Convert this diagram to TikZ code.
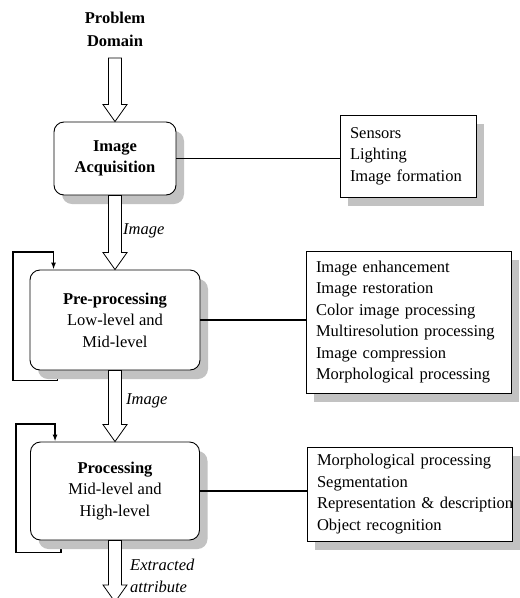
\documentclass[tikz,border=0pt]{standalone}
\usepackage{fontspec}
\setmainfont{Liberation Serif}
\usetikzlibrary{shadows,calc,arrows.meta,backgrounds}
\tikzset{
  txt/.style={font=\fontsize{16.5}{21.5}\selectfont},
  stage/.style={txt, draw=black, line width=0.9pt, fill=white, rounded corners=10pt, align=center,
     drop shadow={shadow xshift=8pt, shadow yshift=-9pt, fill=black!24, opacity=1}},
  listbox/.style={txt, draw=black, line width=0.9pt, fill=white, align=left, inner xsep=10pt, inner ysep=0pt,
     drop shadow={shadow xshift=8pt, shadow yshift=-9pt, fill=black!24, opacity=1}},
  hollow/.style={draw=black, line width=0.8pt, fill=white},
  link/.style={draw=black, line width=1.4pt},
  loopline/.style={draw=black, line width=1.4pt, -{Latex[length=7pt,width=5pt]}},
  lab/.style={txt, font=\fontsize{16.5}{21.5}\selectfont\itshape, anchor=west, align=left, inner sep=0pt}
}
\newcommand\hollowarrow[2]{%
  \draw[hollow] ($(#1)+(-6.5,0)$) -- ($(#2)+(-6.5,-17)$) -- ($(#2)+(-12,-17)$) -- (#2)
    -- ($(#2)+(12,-17)$) -- ($(#2)+(6.5,-17)$) -- ($(#1)+(6.5,0)$) -- cycle;}
\begin{document}
\begin{tikzpicture}[x=1pt,y=-1pt]
\useasboundingbox (0,0) rectangle (520,598);

\node[txt, font=\fontsize{16.5}{23}\selectfont\bfseries, align=center] (pd) at (115,29) {Problem\\Domain};

\node[stage, minimum width=122pt, minimum height=73pt] (acq) at (115,158.5)
  {\textbf{Image}\\\textbf{Acquisition}};
\node[stage, minimum width=170pt, minimum height=100pt] (pre) at (115,320)
  {\textbf{Pre-processing}\\Low-level and\\Mid-level};
\node[stage, minimum width=169pt, minimum height=98pt] (proc) at (115,491)
  {\textbf{Processing}\\Mid-level and\\High-level};

\node[listbox, text width=116pt, minimum height=82pt] (l1) at (408,156)
  {Sensors\\Lighting\\Image formation};
\node[listbox, text width=185pt, minimum height=142pt] (l2) at (408.5,322)
  {Image enhancement\\Image restoration\\Color image processing\\\mbox{Multiresolution processing}\\Image compression\\\mbox{Morphological processing}};
\node[listbox, text width=185pt, minimum height=94pt] (l3) at (409.5,494)
  {\mbox{Morphological processing}\\Segmentation\\\mbox{Representation \& description}\\Object recognition};

\draw[link] (acq.east) -- (acq.east -| l1.west);
\draw[link] (pre.east) -- (pre.east -| l2.west);
\draw[link] (proc.east) -- (proc.east -| l3.west);

\begin{scope}[on background layer]
  \draw[loopline] ($(pre.south west)+(28,0)$) -- ++(0,10) -| (13,252) -| ($(pre.north west)+(24,0)$);
  \draw[loopline] ($(proc.south west)+(31,0)$) -- ++(0,12) -| (16,424) -| ($(proc.north west)+(25,0)$);
\end{scope}

\coordinate (a1s) at (115,58);
\coordinate (a4e) at (115,602);
\hollowarrow{a1s}{acq.north}
\hollowarrow{acq.south}{pre.north}
\hollowarrow{pre.south}{proc.north}
\hollowarrow{proc.south}{a4e}

\node[lab] (im1) at (123,231) {Image};
\node[lab] (im2) at (126,401) {Image};
\node[lab] (ex) at (130,576) {Extracted\\attribute};
\end{tikzpicture}
\end{document}
